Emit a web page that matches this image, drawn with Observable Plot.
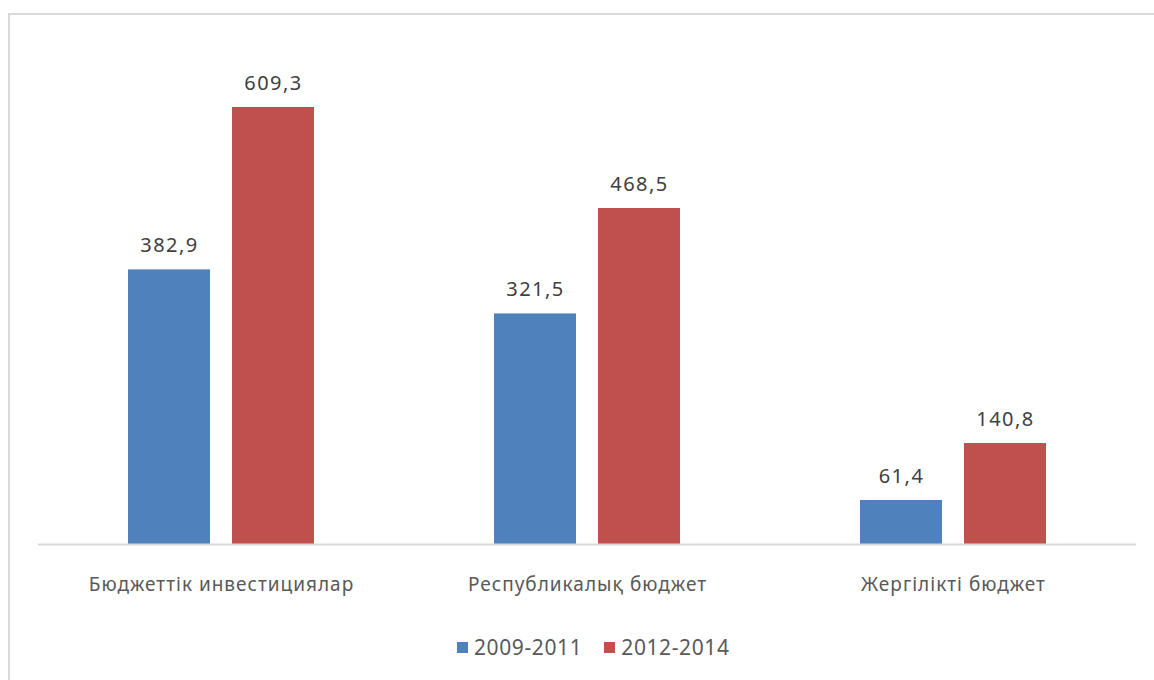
<!DOCTYPE html>
<html>
<head>
<meta charset="utf-8">
<script src="https://cdn.jsdelivr.net/npm/d3@7"></script>
<script src="https://cdn.jsdelivr.net/npm/@observablehq/plot@0.6"></script>
<style>
  html, body { margin: 0; padding: 0; background: #fff; width: 1154px; height: 680px; overflow: hidden; }
  #frame { position: absolute; left: 8px; top: 13px; width: 1170px; height: 700px; border: 2px solid #d9d9d9; box-sizing: border-box; }
  #chart { position: absolute; left: 0; top: 0; }
  #legend { position: absolute; left: 457px; top: 633px; display: flex; align-items: center; font-family: "Noto Sans", sans-serif; font-size: 21px; color: #595959; letter-spacing: 0.6px; }
  #legend .item { display: flex; align-items: center; margin-right: 22px; }
  #legend .sw { width: 11px; height: 11px; margin-right: 6px; }
</style>
</head>
<body>
<div id="frame"></div>
<div id="chart"></div>
<div id="legend"></div>
<script>
const categories = ["Бюджеттік инвестициялар", "Республикалық бюджет", "Жергілікті бюджет"];
const periods = ["2009-2011", "2012-2014"];
const values2009 = [382.9, 321.5, 61.4];
const values2012 = [609.3, 468.5, 140.8];
const colors = ["#4F81BD", "#C0504D"];

const data = categories.flatMap((c, i) => [
  {cat: c, period: periods[0], value: values2009[i]},
  {cat: c, period: periods[1], value: values2012[i]}
]);
const fmt = v => v.toFixed(1).replace(".", ",");

const chart = Plot.plot({
  width: 1154,
  height: 600,
  marginLeft: 37,
  marginRight: 17,
  marginTop: 107,
  marginBottom: 56,
  style: {fontFamily: "'Noto Sans', sans-serif", background: "transparent"},
  fx: {domain: categories, padding: 0, label: null},
  x: {domain: periods, paddingInner: 0.2115, paddingOuter: 0.865, axis: null},
  y: {domain: [0, 609.3], axis: null},
  color: {domain: periods, range: colors},
  marks: [
    Plot.barY(data, {fx: "cat", x: "period", y: "value", fill: "period"}),
    Plot.ruleY([0], {stroke: "#d9d9d9", strokeWidth: 2}),
    Plot.text(data, {fx: "cat", x: "period", y: "value", text: d => fmt(d.value), dy: -24, fontSize: 20, fill: "#404040"}),
    Plot.axisFx({anchor: "bottom", tickSize: 0, tickPadding: 33, fontSize: 19, color: "#595959", label: null})
  ]
});
document.getElementById("chart").appendChild(chart);
d3.select(chart).selectAll("g[aria-label='text'] text").style("letter-spacing", "1.5px");
d3.select(chart).selectAll("g[aria-label='fx-axis tick label'] text").style("letter-spacing", "1px");

const legend = d3.select("#legend");
periods.forEach((p, i) => {
  const it = legend.append("div").attr("class", "item");
  it.append("div").attr("class", "sw").style("background", colors[i]);
  it.append("span").text(p);
});
</script>
</body>
</html>
